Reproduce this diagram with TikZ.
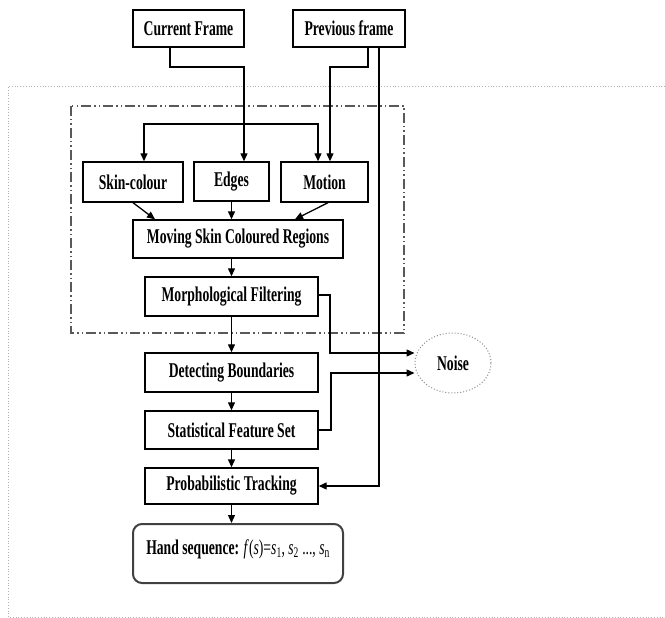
\documentclass[tikz,border=0pt]{standalone}
\usepackage{fontspec}
\setmainfont{Liberation Serif}
\usepackage{graphicx}
\usetikzlibrary{arrows.meta,shapes.geometric}
\newcommand\sx[1]{\scalebox{0.65}[1]{#1}}
\tikzset{
  box/.style={draw=black, line width=1.4pt, rectangle, inner sep=0pt,
    font=\bfseries\fontsize{21}{23}\selectfont},
  arr/.style={draw=black, line width=1.3pt, -{Triangle[length=8pt,width=7pt]}},
  ln/.style={draw=black, line width=1.3pt},
  dashdotbox/.style={draw=black!65, line width=2pt,
    dash pattern=on 10pt off 3pt on 1.5pt off 3pt on 1.5pt off 3pt},
  outerframe/.style={draw=black!30, line width=0.8pt, dotted},
}
\begin{document}
\begin{tikzpicture}[x=1pt,y=-1pt]
\useasboundingbox (0,0) rectangle (665,618);
% outer dotted frame
\draw[outerframe] (665,86) -- (8,86) -- (8,617) -- (665,617);
% dash-dot group box
\draw[dashdotbox] (71,106) rectangle (404,333);

% nodes
\node[box, minimum width=111pt, minimum height=37pt] (cur) at (188.5,28.5) {\sx{Current Frame}};
\node[box, minimum width=112pt, minimum height=37pt] (prev) at (349,28.5) {\sx{Previous frame}};
\node[box, minimum width=100pt, minimum height=40pt] (skin) at (133,182) {\sx{Skin-colour}};
\node[box, minimum width=75pt, minimum height=39pt] (edges) at (231.5,181.5) {\sx{Edges}};
\node[box, minimum width=87pt, minimum height=40pt] (motion) at (324.5,182) {\sx{Motion}};
\node[box, minimum width=210pt, minimum height=38pt] (mscr) at (238,239) {\sx{Moving Skin Coloured Regions}};
\node[box, minimum width=173pt, minimum height=39pt] (morph) at (231.5,296.5) {\sx{Morphological Filtering}};
\node[box, minimum width=173pt, minimum height=39pt] (detect) at (231.5,372.5) {\sx{Detecting Boundaries}};
\node[box, minimum width=173pt, minimum height=38pt] (stat) at (231.5,430) {\sx{Statistical Feature Set}};
\node[box, minimum width=173pt, minimum height=36pt] (prob) at (231.5,486) {\sx{Probabilistic Tracking}};
\node[draw=black!75, line width=2pt, rounded corners=9pt, minimum width=210pt, minimum height=59pt] (hand) at (238,553.5) {};
\node[font=\fontsize{21}{23}\selectfont, anchor=center] (handtxt) at (238,549.5)
  {\sx{\textbf{Hand sequence:} \textit{f}(\textit{s})=\textit{s}\textsubscript{1}, \textit{s}\textsubscript{2} ..., \textit{s}\textsubscript{n}}};
\node[draw=black!45, line width=1pt, dotted, ellipse, minimum width=76pt, minimum height=60pt,
  font=\bfseries\fontsize{21}{23}\selectfont] (noise) at (453,363) {\sx{Noise}};

% connectors
\coordinate (j) at (244,124);
\draw[arr] ([xshift=-18.5pt]cur.south) |- (244,67) -- ([xshift=12.5pt]edges.north);
\draw[arr] ([xshift=19pt]prev.south) |- (330,67) -- ([xshift=5.5pt]motion.north);
\draw[arr] ([xshift=30pt]prev.south) |- (prob.east);
\draw[arr] (j) -| ([xshift=11pt]skin.north);
\draw[arr] (j) -| ([xshift=-6.5pt]motion.north);

\draw[arr] (skin.south) -- ([xshift=-83pt]mscr.north);
\draw[arr] (edges.south) -- (edges.south |- mscr.north);
\draw[arr] ([xshift=3.5pt]motion.south) -- ([xshift=57pt]mscr.north);
\draw[arr] (mscr.south -| morph.north) -- (morph.north);
\draw[arr] (morph.south) -- (detect.north);
\draw[arr] (detect.south) -- (stat.north);
\draw[arr] (stat.south) -- (prob.north);
\draw[arr] (prob.south) -- (prob.south |- hand.north);

\draw[arr] ([yshift=1.5pt]morph.east) -- (330,295) |- ([yshift=10pt]noise.west);
\draw[arr] (stat.east) -- (331,430) |- ([yshift=-10pt]noise.west);
\end{tikzpicture}
\end{document}
